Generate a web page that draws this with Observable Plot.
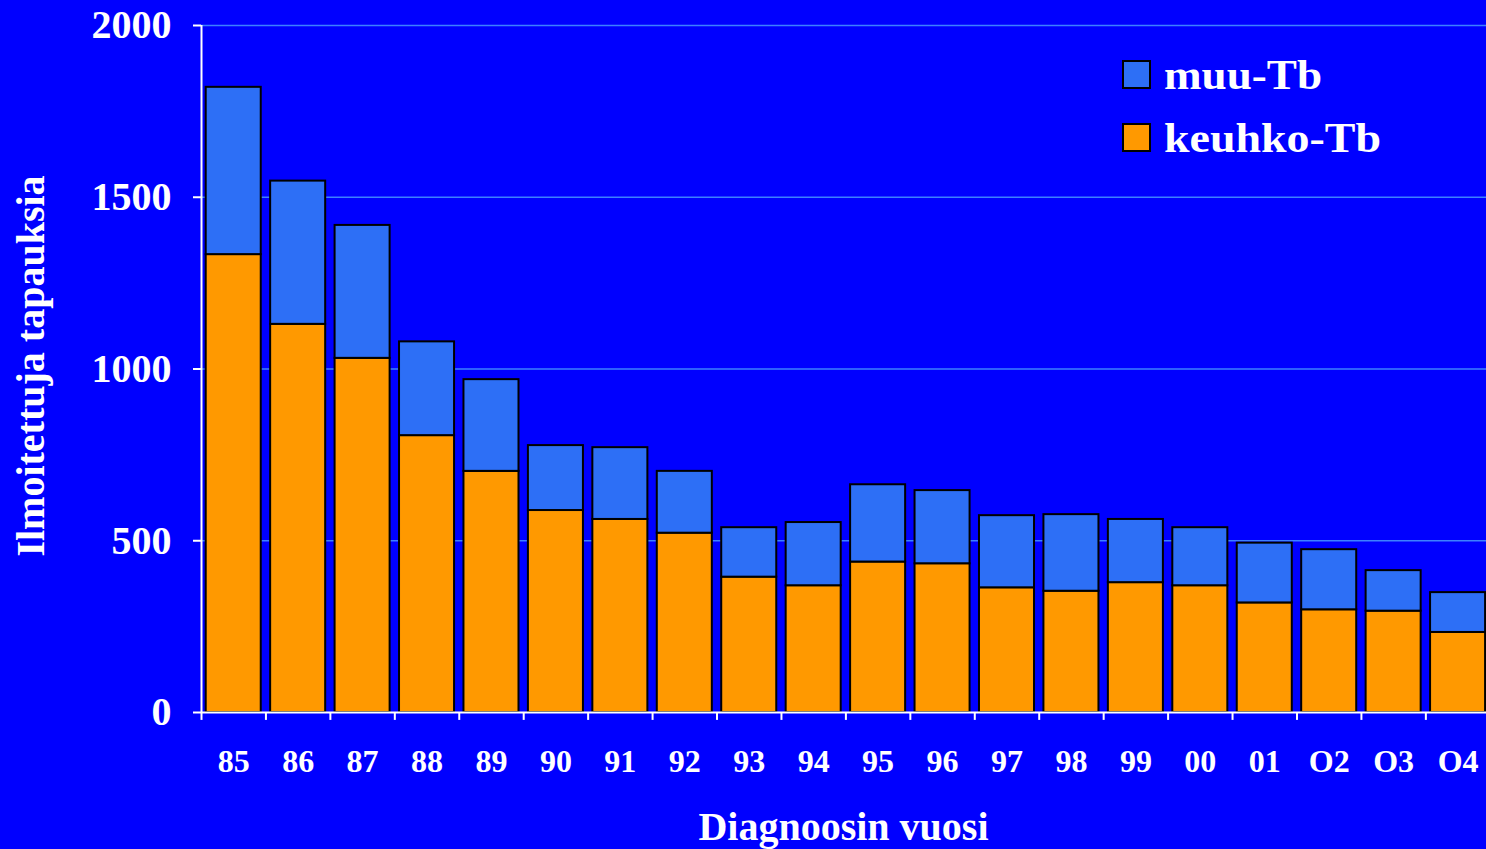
<!DOCTYPE html>
<html><head><meta charset="utf-8">
<script src="https://cdn.jsdelivr.net/npm/d3@7"></script>
<script src="https://cdn.jsdelivr.net/npm/@observablehq/plot@0.6"></script>
<style>
html,body{margin:0;padding:0;background:#0000FF;overflow:hidden}
#chart{position:relative;width:1486px;height:849px}
</style></head><body><div id="chart"></div>
<script>
// Data
const years = ["85","86","87","88","89","90","91","92","93","94","95","96","97","98","99","00","01","O2","O3","O4"];
const keuhkoTb = [1333,1130,1031,806,702,588,562,522,394,369,438,433,363,353,378,369,319,299,295,233];
const muuTb    = [487,417,387,273,267,189,209,180,144,184,225,213,210,223,184,169,174,175,118,116];
const seriesNames = ["muu-Tb","keuhko-Tb"];
const seriesColors = ["#2D6FF6","#FF9900"];
const yTicks = [0,500,1000,1500,2000];
const yTitle = "Ilmoitettuja tapauksia";
const xTitle = "Diagnoosin vuosi";

const rows = years.flatMap((y,i)=>[
  {year:y, series:"keuhko-Tb", value:keuhkoTb[i]},
  {year:y, series:"muu-Tb", value:muuTb[i]}
]);

const W=1486, H=849, mL=201, mR=0, mT=25, mB=137;
const step = 64.44;
const xRange = [mL, mL + step*years.length];
const font = "'Liberation Serif','Times New Roman',serif";
const legendTextWidths = [158, 217];

const chart = Plot.plot({
  width:W, height:H, marginLeft:mL, marginRight:mR, marginTop:mT, marginBottom:mB,
  style:{background:"#0000FF", color:"white", fontFamily:font, fontWeight:"bold", overflow:"visible"},
  x:{domain:years, range:xRange, round:false, paddingInner:0.146, paddingOuter:0.073, label:null},
  y:{domain:[0,2000], label:null},
  color:{domain:seriesNames, range:seriesColors},
  marks:[
    Plot.ruleY(yTicks.filter(d=>d>0), {stroke:"#3C80FF", strokeWidth:1.5}),
    Plot.barY(rows, {x:"year", y:"value", fill:"series", stroke:"black", strokeWidth:2}),
    Plot.ruleY([0], {stroke:"white", strokeWidth:2}),
    Plot.ruleX(years, {x:d=>d, dx:-step/2, y1:-23, y2:0, stroke:"white", strokeWidth:2}),
    Plot.ruleX([years[0]], {x:d=>d, dx:-step/2, y1:0, y2:2000, stroke:"white", strokeWidth:2}),
    Plot.axisX({tickSize:0, tickPadding:37, fontSize:32, label:null}),
    Plot.axisY({ticks:yTicks, tickFormat:d=>String(d), tickSize:8, tickPadding:22, fontSize:40, stroke:"white", strokeWidth:2, label:null})
  ]
});
document.getElementById("chart").appendChild(chart);

const svg = d3.select(chart);
// Legend
const lg = svg.append("g").attr("font-family", font).attr("font-weight","bold").attr("text-anchor","start");
seriesNames.forEach((name,i)=>{
  lg.append("rect").attr("x",1123).attr("y",61+i*63).attr("width",27).attr("height",27)
    .attr("fill",seriesColors[i]).attr("stroke","black").attr("stroke-width",2);
  lg.append("text").attr("x",1164).attr("y",89+i*63).attr("fill","white").attr("font-size",42)
    .attr("textLength", legendTextWidths[i]).attr("lengthAdjust","spacingAndGlyphs").text(name);
});
// Axis titles
svg.append("text").attr("x",843.5).attr("y",840).attr("text-anchor","middle")
  .attr("fill","white").attr("font-size",40).attr("font-family",font).attr("font-weight","bold").text(xTitle);
svg.append("text").attr("transform","translate(44,366) rotate(-90)").attr("text-anchor","middle")
  .attr("fill","white").attr("font-size",40).attr("font-family",font).attr("font-weight","bold").text(yTitle);
</script>
</body></html>
